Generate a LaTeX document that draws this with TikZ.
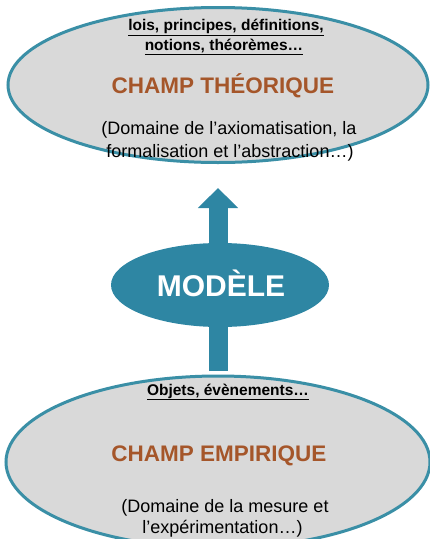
\documentclass[tikz,border=0pt]{standalone}
\usepackage{fontspec}
\setmainfont{Liberation Sans}
\usetikzlibrary{shapes.geometric,arrows.meta}
\definecolor{tealA}{HTML}{2E86A3}
\definecolor{rim}{HTML}{3A8FA6}
\definecolor{greyfill}{HTML}{D9D9D9}
\definecolor{brownt}{HTML}{A5562A}
\begin{document}
\begin{tikzpicture}[x=1pt,y=-1pt,
  field/.style={ellipse, draw=rim, line width=3pt, fill=greyfill, inner sep=0pt},
  head/.style={anchor=base, font=\bfseries\fontsize{15.5}{19}\selectfont},
  title/.style={anchor=base, text=brownt, font=\bfseries\fontsize{22.5}{27}\selectfont},
  note/.style={anchor=base, font=\fontsize{18}{22}\selectfont}]
\useasboundingbox (0,0) rectangle (430,539);
\clip (0,0) rectangle (430,539);
% fields
\node[field, minimum width=420pt, minimum height=155pt] (theo) at (218,85) {};
\node[field, minimum width=424pt, minimum height=172pt] (emp) at (218,462) {};
% arrow
\draw[tealA, line width=19pt, -{Triangle[width=39pt,length=20pt]},
  shorten <=4pt, shorten >=24pt] (emp.north) -- (theo.south);
% model
\node[ellipse, fill=tealA, minimum width=218pt, minimum height=84pt, inner sep=0pt] (mod) at (220,285) {};
\node[anchor=base, text=white, font=\bfseries\fontsize{30}{36}\selectfont] (modtxt) at (221,296) {MODÈLE};
% texts theory
\node[head] (t1) at (226,30.5) {\underline{lois, principes, définitions,}};
\node[head] (t2) at (224,50.5) {\underline{notions, théorèmes…}};
\node[title] (t3) at (223,93) {CHAMP THÉORIQUE};
\node[note] (t4) at (229,134.5) {(Domaine de l’axiomatisation, la};
\node[note] (t5) at (230,157.5) {formalisation et l’abstraction…)};
% texts empirical
\node[head] (e1) at (228,395) {\underline{Objets, évènements…}};
\node[title] (e2) at (219,461) {CHAMP EMPIRIQUE};
\node[note] (e3) at (225,512) {(Domaine de la mesure et};
\node[note] (e4) at (222.5,533.5) {l’expérimentation…)};
\end{tikzpicture}
\end{document}
